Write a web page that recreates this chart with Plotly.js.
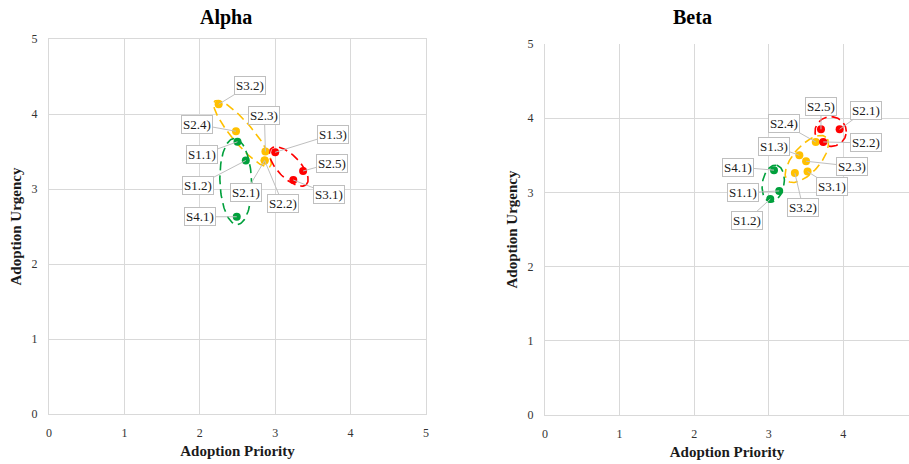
<!DOCTYPE html>
<html>
<head>
<meta charset="utf-8">
<script src="https://cdn.plot.ly/plotly-3.0.1.min.js"></script>
<style>html,body{margin:0;padding:0;background:#fff;}#chart{width:909px;height:464px;}</style>
</head>
<body>
<div id="chart"></div>
<script>
// ---------- DATA ----------
const labels = ['S1.1)','S1.2)','S1.3)','S2.1)','S2.2)','S2.3)','S2.4)','S2.5)','S3.1)','S3.2)','S4.1)'];

const alphaPriority = [2.50, 2.61, 3.00, 2.86, 2.86, 2.87, 2.48, 3.37, 3.24, 2.25, 2.49];
const alphaUrgency  = [3.63, 3.38, 3.49, 3.38, 3.38, 3.50, 3.77, 3.24, 3.12, 4.13, 2.63];
const alphaGroup    = ['green','green','red','orange','orange','orange','orange','red','red','orange','green'];

const betaPriority = [3.14, 3.02, 3.41, 3.95, 3.73, 3.50, 3.63, 3.70, 3.52, 3.35, 3.07];
const betaUrgency  = [3.02, 2.91, 3.50, 3.85, 3.68, 3.42, 3.68, 3.85, 3.28, 3.26, 3.30];
const betaGroup    = ['green','green','orange','red','red','orange','orange','red','orange','orange','green'];

// cluster ellipses: centre, semi-axes, rotation (deg)
const alphaClusterGroup = ['orange','green','red'];
const alphaClusterCx    = [2.566, 2.477, 3.18];
const alphaClusterCy    = [3.737, 3.10, 3.30];
const alphaClusterA     = [0.57, 0.575, 0.335];
const alphaClusterB     = [0.14, 0.21, 0.15];
const alphaClusterAngle = [-50, 92, -46];

const betaClusterGroup = ['red','orange','green'];
const betaClusterCx    = [3.83, 3.51, 3.06];
const betaClusterCy    = [3.82, 3.45, 3.12];
const betaClusterA     = [0.21, 0.39, 0.25];
const betaClusterB     = [0.20, 0.18, 0.145];
const betaClusterAngle = [0, 49, 80];

const tickVals = [0,1,2,3,4,5];

// ---------- STYLE ----------
const colors = {green:'#00A03C', red:'#FF0000', orange:'#FFC000'};
const serif = '"Liberation Serif", "Times New Roman", serif';

// label pixel offsets (tail of leader line relative to point)
const alphaOffsets = [[-36,13],[-48,25],[58,-18],[-19,32],[18,43],[-1,-36],[-39,-7],[29,-8],[36,14],[31,-19],[-37,0]];
const betaOffsets  = [[-36,2],[-23,21],[-25,-9],[26,-19],[43,1],[46,5],[-32,-18],[0,-23],[24,15],[8,34],[-36,-3]];

function ellipse(cx, cy, a, b, angDeg){
  const t = angDeg*Math.PI/180, xs=[], ys=[];
  for(let i=0;i<=120;i++){
    const u = 2*Math.PI*i/120;
    const ex = a*Math.cos(u), ey = b*Math.sin(u);
    xs.push(cx + ex*Math.cos(t) - ey*Math.sin(t));
    ys.push(cy + ex*Math.sin(t) + ey*Math.cos(t));
  }
  return {xs, ys};
}

const traces = [];
const annotations = [];

function addPanel(px, py, grp, offs, cg, cx, cy, ca, cb, cang, xa, ya){
  for(let i=0;i<cg.length;i++){
    const e = ellipse(cx[i], cy[i], ca[i], cb[i], cang[i]);
    traces.push({x:e.xs, y:e.ys, xaxis:xa, yaxis:ya, mode:'lines', hoverinfo:'skip',
      line:{color:colors[cg[i]], width:1.6, dash:'9px,5px'}, showlegend:false});
  }
  ['green','orange','red'].forEach(g=>{
    const idx = grp.map((v,i)=>v===g?i:-1).filter(i=>i>=0);
    traces.push({x:idx.map(i=>px[i]), y:idx.map(i=>py[i]), text:idx.map(i=>labels[i]),
      xaxis:xa, yaxis:ya, mode:'markers', marker:{color:colors[g], size:8}, showlegend:false});
  });
  for(let i=0;i<labels.length;i++){
    annotations.push({x:px[i], y:py[i], xref:xa, yref:ya, text:labels[i], showarrow:true,
      arrowhead:0, arrowwidth:1, arrowcolor:'#bfbfbf', ax:offs[i][0], ay:offs[i][1],
      bordercolor:'#bfbfbf', borderwidth:1, borderpad:1, bgcolor:'#ffffff',
      font:{family:serif, size:13, color:'#1a1a1a'}, standoff:0});
  }
}

addPanel(alphaPriority, alphaUrgency, alphaGroup, alphaOffsets, alphaClusterGroup,
  alphaClusterCx, alphaClusterCy, alphaClusterA, alphaClusterB, alphaClusterAngle, 'x', 'y');
addPanel(betaPriority, betaUrgency, betaGroup, betaOffsets, betaClusterGroup,
  betaClusterCx, betaClusterCy, betaClusterA, betaClusterB, betaClusterAngle, 'x2', 'y2');

annotations.push({text:'<b>Alpha</b>', xref:'paper', yref:'paper', x:(226/909), y:1-(17/464),
  showarrow:false, font:{family:serif, size:20, color:'#000'}, xanchor:'center', yanchor:'middle'});
annotations.push({text:'<b>Beta</b>', xref:'paper', yref:'paper', x:(692/909), y:1-(17/464),
  showarrow:false, font:{family:serif, size:20, color:'#000'}, xanchor:'center', yanchor:'middle'});

const axCommon = {
  showgrid:true, gridcolor:'#d9d9d9', gridwidth:1, zeroline:false,
  showline:true, linecolor:'#d9d9d9', linewidth:1,
  tickfont:{family:serif, size:12, color:'#333333'}, ticks:'', tickvals:tickVals,
  ticklabelstandoff:8, fixedrange:true
};
const xTitle = {text:'<b>Adoption Priority</b>', font:{family:serif, size:15, color:'#1a1a1a'}, standoff:6};
const yTitle = {text:'<b>Adoption Urgency</b>', font:{family:serif, size:15, color:'#1a1a1a'}, standoff:6};

const layout = {
  width:909, height:464, paper_bgcolor:'#fff', plot_bgcolor:'#fff',
  margin:{l:0, r:0, t:0, b:0},
  showlegend:false,
  xaxis: Object.assign({}, axCommon, {domain:[49/909, 426/909], range:[0,5], anchor:'y', mirror:true, title:xTitle}),
  yaxis: Object.assign({}, axCommon, {domain:[1-414/464, 1-39/464], range:[0,5], anchor:'x', mirror:true, title:yTitle}),
  xaxis2: Object.assign({}, axCommon, {domain:[545/909, 1], range:[0,4.88], anchor:'y2', title:xTitle}),
  yaxis2: Object.assign({}, axCommon, {domain:[1-415/464, 1-44/464], range:[0,5], anchor:'x2', title:yTitle}),
  annotations: annotations
};

Plotly.newPlot('chart', traces, layout, {displayModeBar:false, staticPlot:true});
</script>
</body>
</html>
